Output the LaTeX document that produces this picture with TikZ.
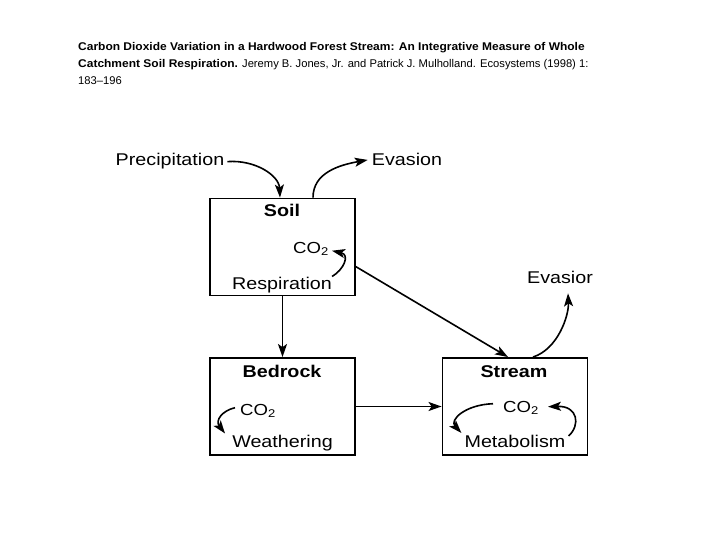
\documentclass[tikz,border=0pt]{standalone}
\usepackage{fontspec}
\setmainfont{Liberation Sans}
\newfontfamily\dfont[FakeStretch=1.16]{Liberation Sans}
\newfontfamily\tfont[BoldFeatures={FakeStretch=1.07}]{Liberation Sans}
\usetikzlibrary{arrows.meta}
\begin{document}
\begin{tikzpicture}[x=1pt,y=-1pt,
  box/.style={draw,line width=1.9pt,minimum width=145pt,minimum height=97pt,inner sep=0pt},
  lbl/.style={font=\dfont\fontsize{17}{20}\selectfont,inner sep=0pt,anchor=base},
  co/.style={font=\dfont\fontsize{16}{20}\selectfont,inner sep=0pt,anchor=base west},
  blbl/.style={font=\dfont\bfseries\fontsize{17}{20}\selectfont,inner sep=0pt,anchor=base},
  conn/.style={line width=1.6pt,-{Stealth[length=13pt,width=9pt,inset=3pt]}},
  ttl/.style={font=\tfont\fontsize{11.2}{13}\selectfont,inner sep=0pt,anchor=base west}]
\useasboundingbox (0,0) rectangle (720,540);
% title
\node[ttl] (t1) at (78,51) {\textbf{Carbon Dioxide Variation in a Hardwood Forest Stream: An Integrative Measure of Whole}};
\node[ttl] (t2) at (78,68) {\textbf{Catchment Soil Respiration.} Jeremy B. Jones, Jr. and Patrick J. Mulholland. Ecosystems (1998) 1:};
\node[ttl] (t3) at (78,85) {183–196};
% boxes
\node[box] (soil) at (282.5,247) {};
\node[box] (bedrock) at (282.5,406.5) {};
\node[box] (stream) at (515,406.5) {};
% labels
\node[lbl] (precip) at (170,166) {Precipitation};
\node[lbl] (evasion) at (407,166) {Evasion};
\node[blbl] (soilt) at (282,217) {Soil};
\node[co] (co2soil) at (293,253) {CO\textsubscript{2}};
\node[lbl] (resp) at (282,289) {Respiration};
\node[blbl] (bedt) at (282,377) {Bedrock};
\node[co] (co2bed) at (240,415) {CO\textsubscript{2}};
\node[lbl] (weath) at (282.5,447) {Weathering};
\node[blbl] (streamt) at (514,377) {Stream};
\node[co] (co2str) at (503,412) {CO\textsubscript{2}};
\node[lbl] (metab) at (515,447) {Metabolism};
\node[lbl] (evasior) at (560,283) {Evasior};
% connectors
\draw[conn] ([xshift=3pt]precip.east) .. controls +(28,-2) and +(-1,-22) .. ([xshift=-2.5pt]soil.north);
\draw[conn] ([xshift=30.5pt]soil.north) .. controls +(0,-25) and +(-28,5) .. ([xshift=-4pt]evasion.west);
\draw[conn] (resp.north east) .. controls +(12,-7) and +(18,4) .. ([shift={(3,2)}]co2soil.east);
\draw[conn] (soil.south) -- (bedrock.north);
\draw[conn] (soil.-15.4) -- (stream.98);
\draw[conn] (stream.70) .. controls +(25,-8) and +(1,22) .. ([shift={(8,10)}]evasior.south);
\draw[conn] (bedrock.east) -- (stream.west);
\draw[conn] ([shift={(-5,-3)}]co2bed.west) .. controls +(-13,3) and +(-10,-13) .. ([shift={(-7,-1)}]weath.north west);
\draw[conn] ([shift={(-10,-4)}]co2str.west) .. controls +(-28,1) and +(-12,-13) .. ([shift={(-3,-1.5)}]metab.north west);
\draw[conn] ([shift={(3,1.5)}]metab.north east) .. controls +(12,-11) and +(30,-1) .. ([shift={(9,-1)}]co2str.east);
\end{tikzpicture}
\end{document}
